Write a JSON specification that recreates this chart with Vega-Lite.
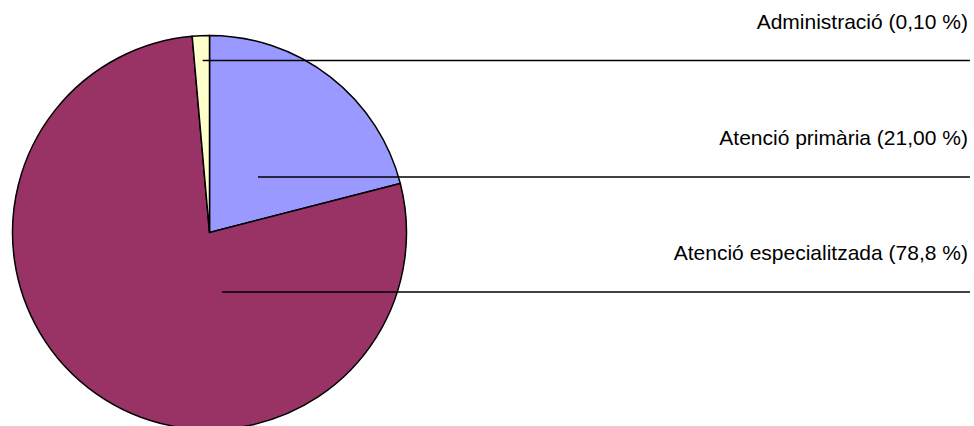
{
  "$schema": "https://vega.github.io/schema/vega-lite/v6.json",
  "width": 974,
  "height": 426,
  "autosize": "none",
  "padding": 0,
  "background": "white",
  "config": {"view": {"stroke": null}},
  "datasets": {
    "slices": [
      {"sector": "Atenció primària", "share": 21.0, "ord": 1},
      {"sector": "Atenció especialitzada", "share": 77.6, "ord": 2},
      {"sector": "Administració", "share": 1.4, "ord": 3}
    ],
    "leaders": [
      {"label": "Administració (0,10 %)", "ax": -0.0345, "ay": 0.873, "ex": 3.86},
      {"label": "Atenció primària (21,00 %)", "ax": 0.246, "ay": 0.282, "ex": 3.86},
      {"label": "Atenció especialitzada (78,8 %)", "ax": 0.063, "ay": -0.302, "ex": 3.86}
    ]
  },
  "layer": [
    {
      "data": {"name": "slices"},
      "mark": {"type": "arc", "radius": 197, "x": 209.5, "y": 232.5, "stroke": "black", "strokeWidth": 1.5},
      "encoding": {
        "theta": {"field": "share", "type": "quantitative", "stack": true},
        "order": {"field": "ord", "type": "quantitative"},
        "color": {
          "field": "sector",
          "type": "nominal",
          "scale": {
            "domain": ["Atenció primària", "Atenció especialitzada", "Administració"],
            "range": ["#9999FF", "#993366", "#FFFFCC"]
          },
          "legend": null
        }
      }
    },
    {
      "data": {"name": "leaders"},
      "mark": {"type": "rule", "stroke": "black", "strokeWidth": 1.5},
      "encoding": {
        "x": {"field": "ax", "type": "quantitative", "scale": {"domain": [-1.0635, 3.8807], "nice": false, "zero": false}, "axis": null},
        "x2": {"field": "ex"},
        "y": {"field": "ay", "type": "quantitative", "scale": {"domain": [-0.9822, 1.1802], "nice": false, "zero": false}, "axis": null}
      }
    },
    {
      "data": {"name": "leaders"},
      "mark": {"type": "text", "align": "right", "baseline": "alphabetic", "dx": -2, "dy": -32, "font": "Liberation Sans", "fontSize": 21, "color": "black"},
      "encoding": {
        "x": {"field": "ex", "type": "quantitative", "scale": {"domain": [-1.0635, 3.8807], "nice": false, "zero": false}, "axis": null},
        "y": {"field": "ay", "type": "quantitative", "scale": {"domain": [-0.9822, 1.1802], "nice": false, "zero": false}, "axis": null},
        "text": {"field": "label"}
      }
    }
  ]
}
